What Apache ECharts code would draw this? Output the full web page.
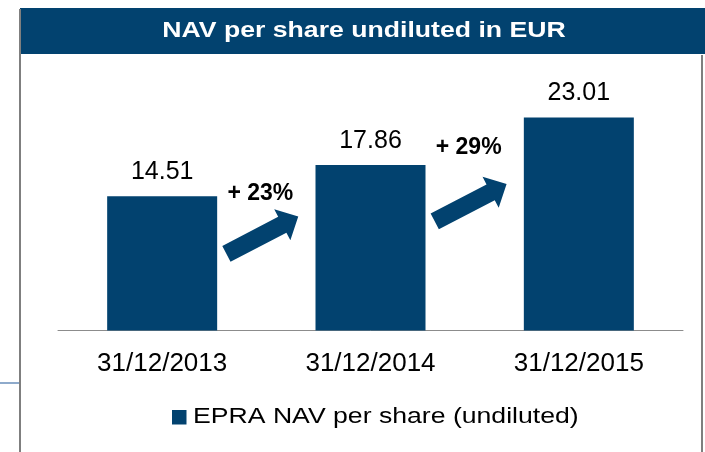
<!DOCTYPE html>
<html>
<head>
<meta charset="utf-8" />
<title>NAV per share</title>
<script src="https://cdn.jsdelivr.net/npm/echarts@6/dist/echarts.min.js"></script>
<style>
  * { margin: 0; padding: 0; }
  body { background: #fff; }
  #chart { width: 705px; height: 452px; }
</style>
</head>
<body>
<div id="chart"></div>
<script>
var categories = ['31/12/2013', '31/12/2014', '31/12/2015'];
var navValues = [14.51, 17.86, 23.01];
var growthLabels = ['+ 23%', '+ 29%'];
var arrowLevels = [10.3, 13.8];
var growthLabelLevels = [14.9, 19.8];
var titleText = 'NAV per share undiluted in EUR';
var seriesName = 'EPRA NAV per share (undiluted)';

var navy = '#02426F';
var font = '"Liberation Sans", Arial, sans-serif';

var chart = echarts.init(document.getElementById('chart'));

// arrow pointing right, rotated up, centred between two bars
function renderArrow(params, api) {
  var i = api.value(0);
  var a = api.coord([i, api.value(1)]);
  var b = api.coord([i + 1, api.value(1)]);
  var t = api.coord([i, api.value(2)]);
  var t2 = api.coord([i + 1, api.value(2)]);
  var cx = (a[0] + b[0]) / 2 - 4;
  var cy = a[1];
  var L = 81, w = 17.8, hw = 35, hl = 18;
  var pts = [
    [-L / 2, -w / 2], [L / 2 - hl, -w / 2], [L / 2 - hl, -hw / 2], [L / 2, 0],
    [L / 2 - hl, hw / 2], [L / 2 - hl, w / 2], [-L / 2, w / 2]
  ];
  var ang = 27.5 * Math.PI / 180;
  var c = Math.cos(ang), s = Math.sin(ang);
  var rot = pts.map(function (p) {
    return [cx + p[0] * c + p[1] * s, cy - p[0] * s + p[1] * c];
  });
  return {
    type: 'group',
    children: [{
      type: 'polygon',
      shape: { points: rot },
      style: { fill: navy }
    }, {
      type: 'text',
      x: (t[0] + t2[0]) / 2 - 6,
      y: t[1] + 1,
      style: {
        text: growthLabels[params.dataIndex],
        fill: '#000',
        font: 'bold 23px ' + font,
        align: 'center',
        verticalAlign: 'middle'
      }
    }]
  };
}

chart.setOption({
  animation: false,
  graphic: [
    { type: 'rect', shape: { x: 20, y: 8, width: 685, height: 46 }, style: { fill: navy }, z: -1 },
    { type: 'rect', shape: { x: 19, y: 9, width: 2, height: 443 }, style: { fill: '#7f7f7f' } },
    { type: 'rect', shape: { x: 701, y: 55, width: 2, height: 397 }, style: { fill: '#7f7f7f' } },
    { type: 'rect', shape: { x: 0, y: 382, width: 19, height: 2 }, style: { fill: '#8eaacb' } },
    // title, drawn a bit wide like the original slide
    {
      type: 'text', x: 364, y: 31, scaleX: 1.21,
      style: {
        text: titleText, fill: '#fff', font: 'bold 22px ' + font,
        align: 'center', verticalAlign: 'middle'
      }
    },
    // legend key
    { type: 'rect', shape: { x: 172, y: 410, width: 14.5, height: 14.5 }, style: { fill: navy } },
    {
      type: 'text', x: 193, y: 417, scaleX: 1.21,
      style: {
        text: seriesName, fill: '#000', font: '22px ' + font,
        align: 'left', verticalAlign: 'middle'
      }
    }
  ],
  grid: { left: 58, right: 22, top: 99, bottom: 121.5 },
  xAxis: {
    type: 'category',
    data: categories,
    axisTick: { show: false },
    axisLine: { lineStyle: { color: '#8c8c8c', width: 1 } },
    axisLabel: { color: '#000', fontSize: 26, fontFamily: font, margin: 20 }
  },
  yAxis: {
    type: 'value',
    min: 0,
    max: 25,
    show: false,
    splitLine: { show: false }
  },
  series: [{
    name: seriesName,
    type: 'bar',
    data: navValues,
    barWidth: 110,
    itemStyle: { color: navy },
    label: {
      show: true,
      position: 'top',
      distance: 12,
      color: '#000',
      fontSize: 25,
      fontFamily: font,
      formatter: function (p) { return p.value.toFixed(2); }
    }
  }, {
    type: 'custom',
    renderItem: renderArrow,
    data: growthLabels.map(function (g, i) { return [i, arrowLevels[i], growthLabelLevels[i]]; }),
    encode: { x: 0, y: 1 },
    silent: true,
    z: 3
  }]
});
</script>
</body>
</html>
